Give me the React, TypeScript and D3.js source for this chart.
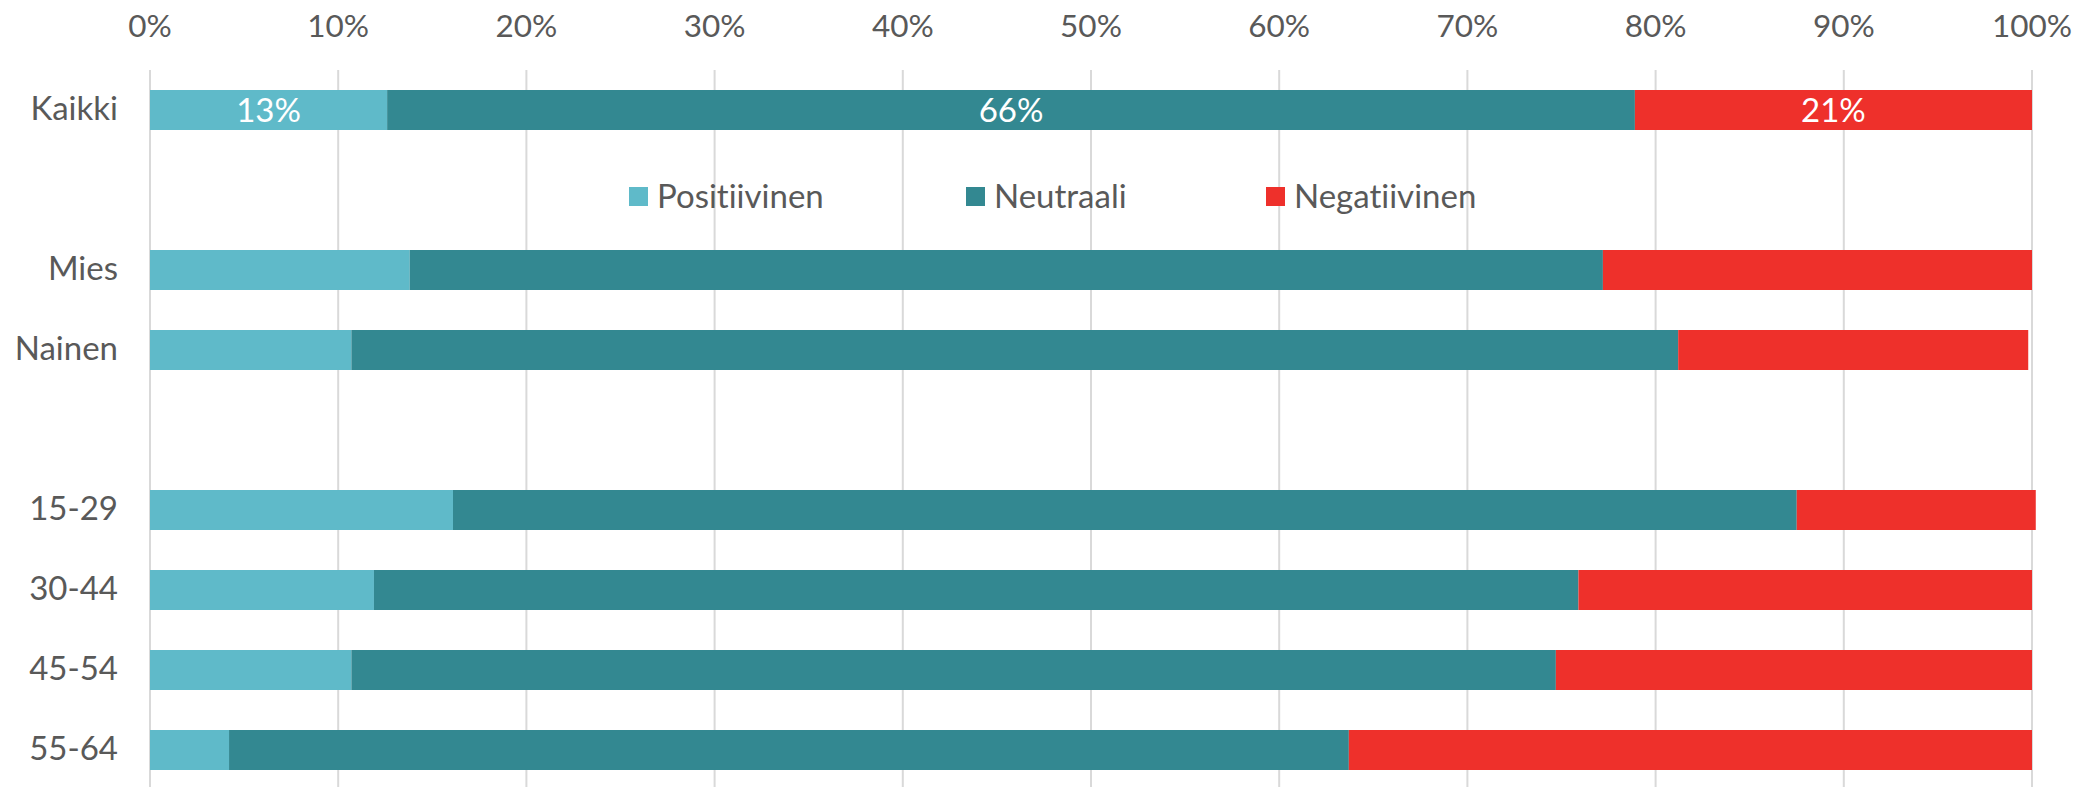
import React from "react";
import * as d3 from "d3";

const categories = ["Kaikki", "", "Mies", "Nainen", "", "15-29", "30-44", "45-54", "55-64"];
const positiivinen = [12.6, null, 13.8, 10.7, null, 16.1, 11.9, 10.7, 4.2];
const neutraali = [66.3, null, 63.4, 70.5, null, 71.4, 64.0, 64.0, 59.5];
const negatiivinen = [21.1, null, 22.8, 18.6, null, 12.7, 24.1, 25.3, 36.3];
const kaikkiLabels = ["13%", "66%", "21%"];
const seriesNames = ["Positiivinen", "Neutraali", "Negatiivinen"];
const seriesColors = ["#5FBAC9", "#338891", "#EE302B"];
const ticks = [0, 10, 20, 30, 40, 50, 60, 70, 80, 90, 100];

const W = 2100;
const H = 787;
const FONT = "Lato, 'Open Sans', sans-serif";
const TEXT = "#595959";

export default function App() {
  const x = d3.scaleLinear().domain([0, 100]).range([150, 2032]);
  const y = d3
    .scaleBand<number>()
    .domain(categories.map((_, i) => i))
    .range([70, 790])
    .paddingInner(0.5)
    .paddingOuter(0.25);

  const rows = categories.map((c, i) => ({
    c,
    i,
    vals: [positiivinen[i], neutraali[i], negatiivinen[i]],
  }));
  const stack = d3.stack<any>().keys(["0", "1", "2"]).value((d, k) => (d.vals[+k] ?? 0));
  const stacked = stack(rows);

  const legendX = [629, 966, 1266];

  return (
    <svg
      width={W}
      height={H}
      style={{ position: "absolute", left: 0, top: 0, background: "#fff", fontVariantLigatures: "none" }}
      fontFamily={FONT}
    >
      {ticks.map((t) => (
        <g key={t}>
          <line x1={x(t)} x2={x(t)} y1={70} y2={H} stroke="#d9d9d9" strokeWidth={2} />
          <text x={x(t)} y={36.5} textAnchor="middle" fontSize={31.5} fill={TEXT}>
            {t}%
          </text>
        </g>
      ))}
      {stacked.map((s, si) =>
        s.map((d, ri) =>
          rows[ri].c === "" ? null : (
            <rect
              key={si + "-" + ri}
              x={x(d[0])}
              width={x(d[1]) - x(d[0])}
              y={y(ri)}
              height={y.bandwidth()}
              fill={seriesColors[si]}
            />
          )
        )
      )}
      {stacked.map((s, si) => {
        const d = s[0];
        return (
          <text
            key={"lab" + si}
            x={(x(d[0]) + x(d[1])) / 2}
            y={(y(0) as number) + y.bandwidth() / 2 + 11.5}
            textAnchor="middle"
            fontSize={33}
            fill="#fff"
          >
            {kaikkiLabels[si]}
          </text>
        );
      })}
      {rows.map((r) =>
        r.c ? (
          <text
            key={"cat" + r.i}
            x={118}
            y={(y(r.i) as number) + y.bandwidth() / 2 + 10}
            textAnchor="end"
            fontSize={33}
            fill={TEXT}
          >
            {r.c}
          </text>
        ) : null
      )}
      {seriesNames.map((n, i) => (
        <g key={n}>
          <rect x={legendX[i]} y={187} width={19} height={19} fill={seriesColors[i]} />
          <text x={legendX[i] + 28} y={208} fontSize={33} fill={TEXT}>
            {n}
          </text>
        </g>
      ))}
    </svg>
  );
}
